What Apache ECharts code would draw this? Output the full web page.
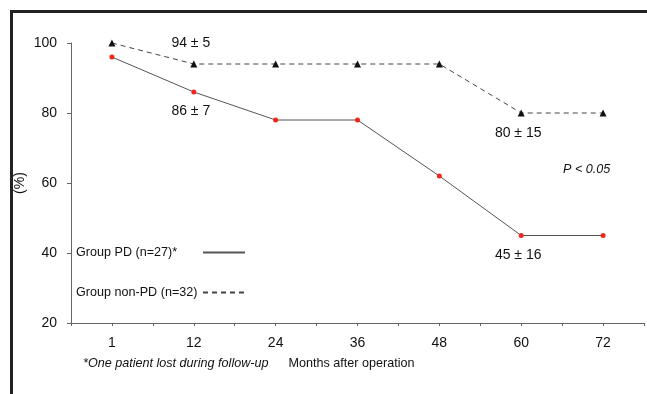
<!DOCTYPE html>
<html>
<head>
<meta charset="utf-8">
<script src="https://cdn.jsdelivr.net/npm/echarts@6/dist/echarts.min.js"></script>
<style>
  html, body {margin: 0; padding: 0; background: #fff;}
  #chart {width: 647px; height: 394px;}
</style>
</head>
<body>
<div id="chart"></div>
<script>
// months after operation
const months = ['1', '12', '24', '36', '48', '60', '72']
const groupPd = [96, 86, 78, 78, 62, 45, 45]
const groupNonPd = [100, 94, 94, 94, 94, 80, 80]
// mean ± sd notes shown next to some points
const pdNotes = ['', '86 ± 7', '', '', '', '45 ± 16', '']
const nonPdNotes = ['', '94 ± 5', '', '', '', '80 ± 15', '']
const yTicks = [20, 40, 60, 80, 100]

const font = '"Liberation Sans", Arial, sans-serif'
const ink = '#111'
const small = 12.6

// attach a label to points that carry a note
function withNotes(values, notes, above) {
  return values.map((v, i) => {
    if (!notes[i]) return v
    const top = above(i, v)
    return {
      value: v,
      label: {
        show: true,
        formatter: notes[i],
        position: top ? 'top' : 'bottom',
        distance: 10,
        offset: [-3, 0],
        fontSize: 14,
        fontFamily: font,
        color: ink,
      },
    }
  })
}

const chart = echarts.init(document.getElementById('chart'))

chart.setOption({
  animation: false,
  backgroundColor: '#fff',
  textStyle: {fontFamily: font},
  grid: {left: 71, right: 3, top: 43, bottom: 71, containLabel: false},
  title: [{
    text: '*One patient lost during follow-up',
    left: 83, top: 357, padding: 0,
    textStyle: {fontSize: small, fontStyle: 'italic', fontWeight: 'normal', color: ink, fontFamily: font},
  }, {
    text: 'P < 0.05',
    left: 563, top: 163, padding: 0,
    textStyle: {fontSize: small, fontStyle: 'italic', fontWeight: 'normal', color: ink, fontFamily: font},
  }],
  legend: {
    orient: 'vertical',
    left: 76,
    top: 246,
    align: 'right',
    padding: 0,
    itemWidth: 42,
    itemHeight: 13,
    itemGap: 27,
    itemStyle: {opacity: 0},
    selectedMode: false,
    formatter: name => '{t|' + name + '}',
    textStyle: {
      fontSize: small, color: ink, fontFamily: font,
      rich: {t: {width: 122, align: 'left', fontSize: small, color: ink, fontFamily: font}},
    },
    data: ['Group PD (n=27)*', 'Group non-PD (n=32)'],
  },
  graphic: [{
    // frame round the figure, cut by the image edge
    type: 'rect',
    shape: {x: 11.5, y: 11.5, width: 800, height: 600},
    style: {fill: 'none', stroke: '#222', lineWidth: 3},
    silent: true,
  }],
  xAxis: [{
    type: 'category',
    data: months,
    boundaryGap: true,
    position: 'bottom',
    name: 'Months after operation',
    nameLocation: 'middle',
    nameGap: 34,
    nameTextStyle: {fontSize: small, color: ink, fontFamily: font, padding: [0, 12, 0, 0]},
    axisLine: {lineStyle: {color: '#666', width: 1}},
    axisTick: {show: true, interval: 0, length: 3, lineStyle: {color: '#666'}},
    axisLabel: {fontSize: 14, color: ink, margin: 13, interval: 0},
    splitLine: {show: false},
  }, {
    // second axis only for the ticks under each point
    type: 'category',
    data: months,
    position: 'bottom',
    axisLine: {show: false},
    axisTick: {show: true, alignWithLabel: true, interval: 0, length: 3, lineStyle: {color: '#666'}},
    axisLabel: {show: false},
    splitLine: {show: false},
  }],
  yAxis: {
    type: 'value',
    min: yTicks[0],
    max: yTicks[yTicks.length - 1],
    interval: 20,
    name: '(%)',
    nameLocation: 'middle',
    nameGap: 44,
    nameMoveOverlap: false,
    nameTextStyle: {fontSize: 14, color: ink, fontFamily: font},
    axisLine: {show: true, lineStyle: {color: '#666', width: 1}},
    axisTick: {show: true, length: 4, lineStyle: {color: '#666'}},
    axisLabel: {fontSize: 14, color: ink, margin: 14},
    splitLine: {show: false},
  },
  series: [{
    name: 'Group PD (n=27)*',
    type: 'line',
    xAxisIndex: 0,
    data: withNotes(groupPd, pdNotes, () => false),
    symbol: 'circle',
    symbolSize: 5,
    itemStyle: {color: '#f0261b'},
    lineStyle: {color: '#555', width: 1, type: 'solid'},
    z: 3,
  }, {
    name: 'Group non-PD (n=32)',
    type: 'line',
    xAxisIndex: 0,
    data: withNotes(groupNonPd, nonPdNotes, i => groupNonPd[i] > 90),
    symbol: 'triangle',
    symbolSize: 7,
    itemStyle: {color: ink},
    lineStyle: {color: '#444', width: 1, type: [5, 4]},
    z: 2,
  }],
})
</script>
</body>
</html>
